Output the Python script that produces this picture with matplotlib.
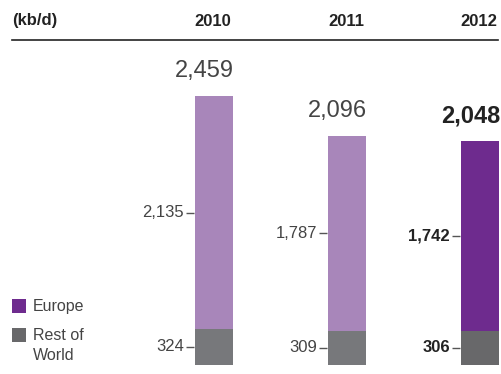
import matplotlib
matplotlib.use("Agg")
import matplotlib.pyplot as plt
from matplotlib.patches import Rectangle

plt.rcParams['font.family'] = ['Liberation Sans', 'DejaVu Sans']

years = ["2010", "2011", "2012"]
europe = [2135, 1787, 1742]
rest_of_world = [324, 309, 306]
totals = [2459, 2096, 2048]
unit_label = "(kb/d)"
legend_labels = [["Europe"], ["Rest of", "World"]]

europe_colors = ["#a886ba", "#a886ba", "#6e2b8e"]
rest_colors = ["#77787b", "#77787b", "#68686a"]
label_colors = ["#444444", "#444444", "#222222"]
label_weights = ["normal", "normal", "bold"]

W, H = 502, 374
fig = plt.figure(figsize=(W / 100, H / 100), dpi=100)
ax = fig.add_axes([0, 0, 1, 1])
ax.axis("off")

# horizontal layout: 133 px between bars, first bar centred at 214 px
step_px, first_px = 133.0, 214.0
ax.set_xlim(-first_px / step_px, (W - first_px) / step_px)
# vertical layout: baseline 9.5 px above the bottom, 0.109 px per kb/d
ppu, base_px = 0.109, 9.5
ax.set_ylim(-base_px / ppu, (H - base_px) / ppu)

width = 38 / step_px
xs = list(range(len(years)))

ax.bar(xs, rest_of_world, width=width, color=rest_colors, linewidth=0)
ax.bar(xs, europe, width=width, bottom=rest_of_world, color=europe_colors, linewidth=0)

px = 1.0 / step_px
for i in xs:
    left = i - width / 2
    # total above each bar, right-aligned with the bar edge
    ax.annotate(f"{totals[i]:,}", (i + width / 2, totals[i]),
                xytext=(1, 14), textcoords="offset pixels",
                ha="right", va="bottom", fontsize=17,
                color=label_colors[i], weight=label_weights[i])
    # segment values with a short leader line
    for val, bottom in ((rest_of_world[i], 0), (europe[i], rest_of_world[i])):
        ymid = bottom + val / 2
        ax.plot([left - 9 * px, left - 1 * px], [ymid, ymid],
                color="#555555", lw=1, solid_capstyle="butt")
        ax.text(left - 11 * px, ymid, f"{val:,}", ha="right", va="center",
                fontsize=12, color=label_colors[i], weight=label_weights[i])

# header row
xt = ax.get_xaxis_transform()
for i, y in enumerate(years):
    ax.text(i - 1 * px, 1 - 21 / H, y, transform=xt, ha="center", va="center",
            fontsize=12, weight="bold", color="#222222")
fig.text(12 / W, 1 - 21 / H, unit_label, ha="left", va="center",
         fontsize=12, weight="bold", color="#222222")
fig.add_artist(plt.Line2D([12 / W, 498 / W], [1 - 40 / H, 1 - 40 / H],
                          transform=fig.transFigure, color="#222222", lw=1.2))

# legend
legend_colors = ["#6e2b8e", "#68686a"]
for k, (lines, col) in enumerate(zip(legend_labels, legend_colors)):
    top = 299 + 29 * k
    fig.add_artist(Rectangle((12 / W, 1 - (top + 14) / H), 14 / W, 14 / H,
                             transform=fig.transFigure, color=col, lw=0))
    for j, line in enumerate(lines):
        fig.text(33 / W, 1 - (top + 8 + 20 * j) / H, line, ha="left", va="center",
                 fontsize=11.5, color="#444444")

fig.savefig("out.png", dpi=100)
